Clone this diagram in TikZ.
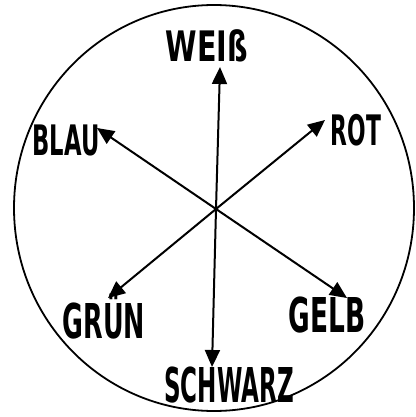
\documentclass[tikz,border=0pt]{standalone}
\usepackage{fontspec}
\setmainfont{DejaVu Sans}
\usetikzlibrary{arrows.meta}
\begin{document}
\begin{tikzpicture}[x=1pt,y=-1pt,
  lab/.style={inner sep=0pt, anchor=base, font=\fontsize{42}{42}\selectfont\bfseries},
  labbig/.style={lab, font=\fontsize{48}{48}\selectfont\bfseries},
  ray/.style={line width=2pt, -{Triangle[length=17pt,width=15pt]}}]
\useasboundingbox (0,0) rectangle (415,417);
\draw[line width=1.8pt] (214,208) ellipse [x radius=200pt, y radius=203pt];
\coordinate (O) at (216,209);
\coordinate (tW) at (220,67);
\coordinate (tR) at (325,120);
\coordinate (tB) at (97,128);
\coordinate (tG) at (108,298);
\coordinate (tY) at (347,298);
\coordinate (tS) at (212,367);
\node[lab, xscale=0.68] (weiss) at (207,62) {WEIß};
\node[lab, xscale=0.52] (rot) at (356,145) {ROT};
\node[lab, xscale=0.54] (blau) at (66,155) {BLAU};
\node[labbig, xscale=0.53] (gruen) at (104,338) {GRÜN};
\node[labbig, xscale=0.55] (gelb) at (327,332) {GELB};
\node[labbig, xscale=0.48] (schwarz) at (229,402) {SCHWARZ};
\foreach \t in {tW,tR,tB,tG,tY,tS} \draw[ray] (O) -- (\t);
\end{tikzpicture}
\end{document}
